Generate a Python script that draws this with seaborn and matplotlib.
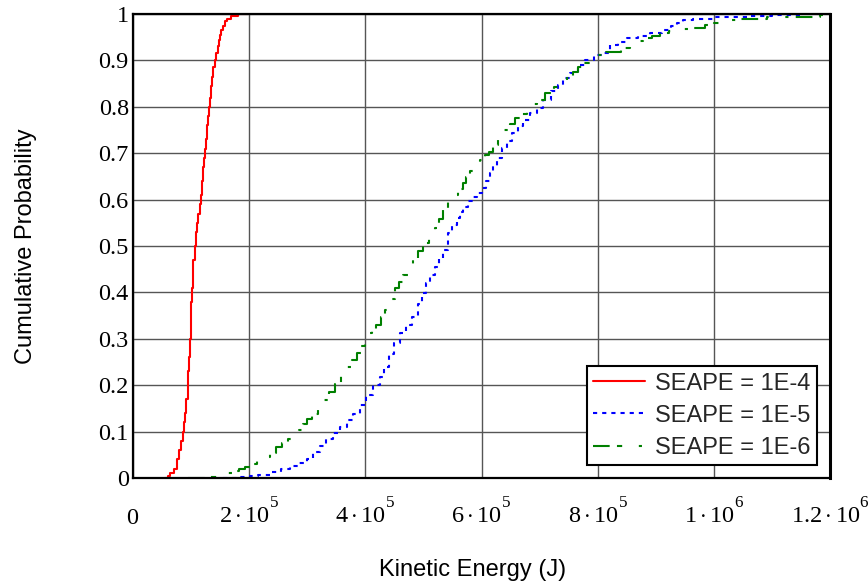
import matplotlib
matplotlib.use("Agg")
import matplotlib.pyplot as plt
import numpy as np
import pandas as pd
import seaborn as sns

try:
    import matplotlib._mathtext as _mt
    _mt.FontConstantsBase.sup1 = 1.45
except Exception:
    pass

# ---- data (kinetic energy in J, cumulative probability) ----
red_energy = [55e3, 60e3, 64e3, 70e3, 75e3, 80e3, 83e3, 86e3, 88e3, 90e3, 92e3, 94e3,
              95.5e3, 97e3, 98e3, 99e3, 100e3, 101e3, 102.5e3, 104e3, 106e3, 108e3,
              110e3, 112e3, 114.5e3, 117e3, 118.5e3, 120e3, 122e3, 124e3, 125.5e3,
              127e3, 128.5e3, 130e3, 132e3, 134e3, 136e3, 138.5e3, 141e3, 143e3,
              146e3, 148e3, 150e3, 152e3, 155e3, 158e3, 162e3, 168e3, 181e3, 198e3]
red_prob = [0.0, 0.005, 0.01, 0.02, 0.04, 0.06, 0.08, 0.10, 0.12, 0.14, 0.17, 0.20,
            0.23, 0.26, 0.30, 0.34, 0.38, 0.41, 0.44, 0.47, 0.50, 0.53,
            0.55, 0.57, 0.59, 0.61, 0.64, 0.67, 0.69, 0.71, 0.73,
            0.76, 0.78, 0.80, 0.82, 0.845, 0.865, 0.885, 0.90, 0.915,
            0.93, 0.945, 0.955, 0.965, 0.975, 0.985, 0.99, 0.995, 0.999, 1.0]

blue_energy = [155e3, 180e3, 201e3, 216e3, 236e3, 255e3, 270e3, 285e3, 299e3, 310e3,
               322e3, 333e3, 345e3, 356e3, 368e3, 379e3, 390e3, 402e3, 414e3, 425e3,
               432e3, 440e3, 450e3, 460e3, 470e3, 480e3, 490e3, 497e3, 505e3, 512e3,
               520e3, 527e3, 534e3, 542e3, 550e3, 557e3, 563e3, 569e3, 577e3, 586e3,
               593e3, 600e3, 608e3, 615e3, 620e3, 626e3, 635e3, 644e3, 652e3, 663e3,
               672e3, 683e3, 695e3, 706e3, 719e3, 732e3, 741e3, 752e3, 767e3, 778e3,
               793e3, 809e3, 821e3, 835e3, 850e3, 870e3, 890e3, 910e3, 927e3, 937e3,
               947e3, 964e3, 999e3, 1057e3, 1100e3, 1150e3]
blue_prob = [0.0, 0.002, 0.004, 0.006, 0.014, 0.02, 0.026, 0.033, 0.041, 0.055,
             0.07, 0.084, 0.096, 0.11, 0.125, 0.139, 0.158, 0.178, 0.2, 0.218,
             0.24, 0.268, 0.29, 0.312, 0.33, 0.348, 0.375, 0.398, 0.42, 0.438,
             0.455, 0.473, 0.491, 0.527, 0.545, 0.56, 0.573, 0.585, 0.596, 0.606,
             0.615, 0.624, 0.64, 0.657, 0.672, 0.69, 0.711, 0.727, 0.743, 0.759,
             0.772, 0.787, 0.798, 0.815, 0.833, 0.847, 0.861, 0.872, 0.89, 0.90,
             0.911, 0.917, 0.933, 0.94, 0.948, 0.953, 0.959, 0.966, 0.974, 0.98,
             0.987, 0.99, 0.994, 0.996, 0.998, 1.0]

green_energy = [95e3, 124e3, 147e3, 160e3, 172e3, 183e3, 193e3, 203e3, 213e3, 225e3,
                236e3, 247e3, 257e3, 267e3, 276e3, 285e3, 293e3, 300e3, 307.5e3, 318e3,
                328e3, 338e3, 348e3, 358e3, 368e3, 377e3, 385e3, 393e3, 399e3, 405e3,
                412e3, 419e3, 427e3, 434e3, 442e3, 451e3, 458e3, 465e3, 473e3, 482e3,
                490e3, 499e3, 510e3, 520e3, 527e3, 534e3, 543e3, 551e3, 560e3, 569e3,
                574e3, 581e3, 588.5e3, 597e3, 606e3, 613e3, 620e3, 629e3, 639e3, 649e3,
                658e3, 668e3, 678e3, 687e3, 695e3, 710e3, 724e3, 735e3, 747e3, 758e3,
                766e3, 775e3, 787e3, 798e3, 815e3, 841e3, 855e3, 867e3, 878e3, 893e3,
                907e3, 922e3, 936e3, 962e3, 985e3, 1000e3, 1016e3, 1039e3, 1091e3,
                1143e3, 1183e3, 1195e3]
green_prob = [0.0, 0.002, 0.006, 0.01, 0.016, 0.02, 0.024, 0.03, 0.037, 0.045,
              0.054, 0.067, 0.075, 0.083, 0.093, 0.103, 0.116, 0.128, 0.139, 0.152,
              0.168, 0.185, 0.202, 0.22, 0.24, 0.255, 0.269, 0.285, 0.301, 0.312,
              0.32, 0.33, 0.346, 0.362, 0.385, 0.409, 0.423, 0.4375, 0.455, 0.473,
              0.49, 0.506, 0.522, 0.538, 0.558, 0.578, 0.594, 0.61, 0.622, 0.635,
              0.649, 0.662, 0.675, 0.686, 0.696, 0.703, 0.717, 0.737, 0.75, 0.764,
              0.775, 0.784, 0.793, 0.805, 0.815, 0.83, 0.843, 0.852, 0.861, 0.876,
              0.885, 0.894, 0.903, 0.912, 0.919, 0.926, 0.934, 0.941, 0.948, 0.953,
              0.959, 0.964, 0.968, 0.969, 0.976, 0.98, 0.987, 0.99, 0.994,
              0.994, 0.998, 1.0]

series_labels = ["SEAPE = 1E-4", "SEAPE = 1E-5", "SEAPE = 1E-6"]
x_ticks = [0, 2e5, 4e5, 6e5, 8e5, 1e6, 1.2e6]
x_tick_labels = [r"$0$", r"$2\cdot10^{5}$", r"$4\cdot10^{5}$", r"$6\cdot10^{5}$",
                 r"$8\cdot10^{5}$", r"$1\cdot10^{6}$", r"$1.2\cdot10^{6}$"]
y_ticks = [0, 0.1, 0.2, 0.3, 0.4, 0.5, 0.6, 0.7, 0.8, 0.9, 1.0]
y_tick_labels = ["0", "0.1", "0.2", "0.3", "0.4", "0.5", "0.6", "0.7", "0.8", "0.9", "1"]

df = pd.concat([
    pd.DataFrame({"energy": red_energy, "prob": red_prob, "series": series_labels[0]}),
    pd.DataFrame({"energy": blue_energy, "prob": blue_prob, "series": series_labels[1]}),
    pd.DataFrame({"energy": green_energy, "prob": green_prob, "series": series_labels[2]}),
], ignore_index=True)

# ---- style ----
sns.set_theme(style="white")
plt.rcParams["font.family"] = ["Liberation Sans", "DejaVu Sans"]
plt.rcParams["mathtext.fontset"] = "custom"
plt.rcParams["mathtext.rm"] = "Liberation Serif"
plt.rcParams["mathtext.it"] = "Liberation Serif:italic"
plt.rcParams["mathtext.bf"] = "Liberation Serif:bold"

W, H = 868, 583
fig = plt.figure(figsize=(W / 100, H / 100), dpi=100)
ax_left, ax_right, ax_top, ax_bottom = 133, 830, 14, 478
ax = fig.add_axes([ax_left / W, (H - ax_bottom) / H,
                   (ax_right - ax_left) / W, (ax_bottom - ax_top) / H])

palette = {series_labels[0]: "#ff0000", series_labels[1]: "#0000ff", series_labels[2]: "#008000"}
dashes = {series_labels[0]: "", series_labels[1]: (2.0, 2.4),
          series_labels[2]: (8, 3.5, 2.5, 8, 1.5, 3.5)}

sns.lineplot(data=df, x="energy", y="prob", hue="series", style="series",
             palette=palette, dashes=dashes, estimator=None, drawstyle="steps-post",
             linewidth=1.5, ax=ax, legend=True)

ax.set_xlim(0, 1.2e6)
ax.set_ylim(0, 1)
ax.set_xticks(x_ticks)
ax.set_xticklabels(x_tick_labels)
ax.set_yticks(y_ticks)
ax.set_yticklabels(y_tick_labels, family=["Liberation Serif", "DejaVu Serif"])
ax.tick_params(axis="x", length=0, pad=33, labelsize=17.5, colors="black")
ax.tick_params(axis="y", length=0, pad=3, labelsize=17.5, colors="black")
for lbl in ax.get_xticklabels():
    lbl.set_va("baseline")
ax.grid(True, color="#555555", linewidth=1.0)
for side, sp in ax.spines.items():
    sp.set_visible(True)
    sp.set_color("black")
    sp.set_linewidth(1.6)
ax.spines["right"].set_linewidth(2.2)

ax.set_xlabel("Kinetic Energy (J)", fontsize=17, color="black")
ax.set_ylabel("Cumulative Probability", fontsize=17, color="black")
ax.xaxis.set_label_coords((481 - ax_left) / (ax_right - ax_left) - 0.012,
                          -(570 - ax_bottom) / (ax_bottom - ax_top))
ax.xaxis.label.set_va("center")
ax.yaxis.set_label_coords(-(ax_left - 26) / (ax_right - ax_left), 0.5)
ax.yaxis.label.set_va("center")

handles, labels = ax.get_legend_handles_labels()
leg = ax.legend(handles, labels, loc="lower right",
                bbox_to_anchor=((817 - ax_left) / (ax_right - ax_left),
                                (ax_bottom - 465) / (ax_bottom - ax_top)),
                borderaxespad=0, fontsize=17, frameon=True, fancybox=False,
                framealpha=1, edgecolor="black", handlelength=2.2,
                handletextpad=0.45, labelspacing=0.43, borderpad=0.26)
leg.get_frame().set_linewidth(1.5)
for line in leg.get_lines():
    line.set_linewidth(1.5)

fig.savefig("out.png", dpi=100)
